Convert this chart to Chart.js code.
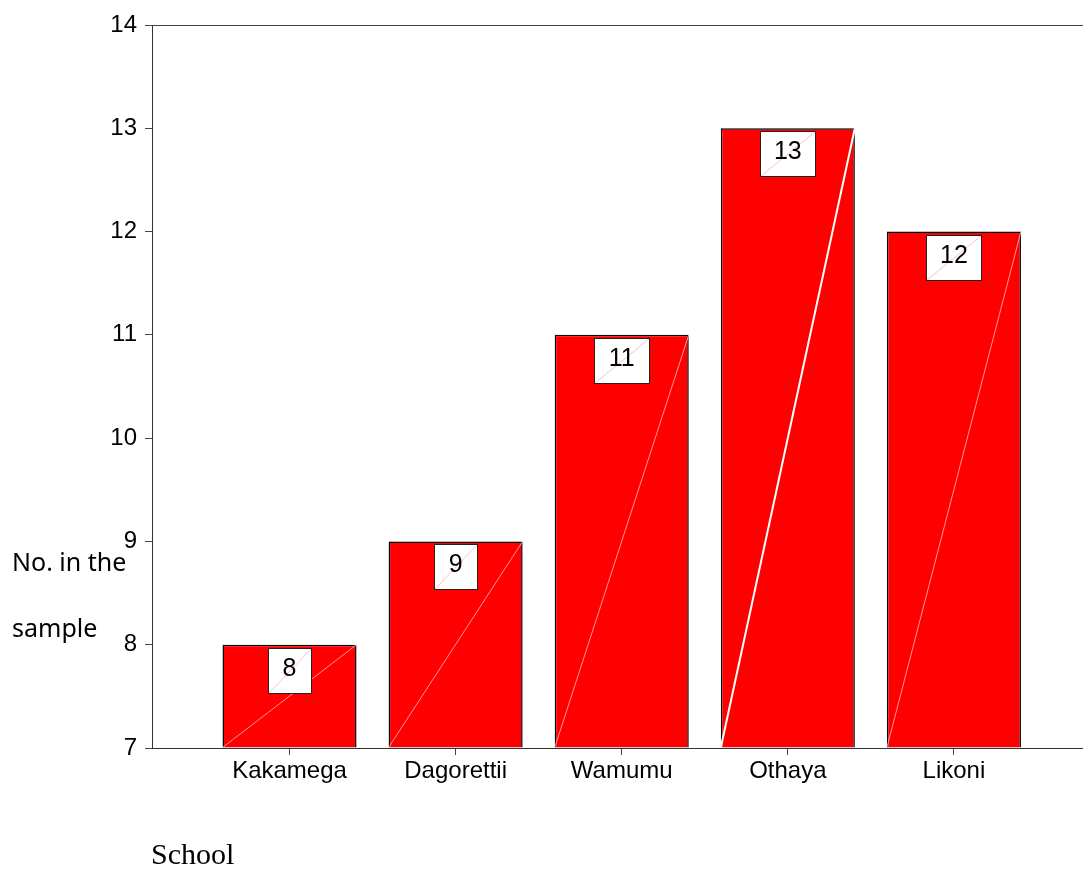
<!DOCTYPE html>
<html>
<head>
<meta charset="utf-8">
<script src="https://cdn.jsdelivr.net/npm/chart.js@4.4.1/dist/chart.umd.min.js"></script>
<style>
  body { margin: 0; background: #fff; }
  #wrap { position: relative; width: 1083px; height: 870px; }
  .lbl { position: absolute; white-space: nowrap; color: #000; }
  .ylab { font-family: "Noto Sans", sans-serif; font-size: 25px; left: 12px; }
  #xlab { font-family: "Liberation Serif", serif; font-size: 30px; left: 151px; top: 837px; }
</style>
</head>
<body>
<div id="wrap">
  <canvas id="myChart" width="1083" height="870"></canvas>
  <div class="lbl ylab" style="top:544px">No. in the</div>
  <div class="lbl ylab" style="top:610px">sample</div>
  <div class="lbl" id="xlab">School</div>
</div>
<script>
const schools = ['Kakamega', 'Dagorettii', 'Wamumu', 'Othaya', 'Likoni'];
const counts = [8, 9, 11, 13, 12];
const yTicks = [7, 8, 9, 10, 11, 12, 13, 14];

const axisFont = { family: 'Liberation Sans, Arial, sans-serif', size: 24 };

// faint diagonal in each bar + the value boxes on top
const barDecor = {
    id: 'barDecor',
    afterDatasetsDraw(chart) {
        const ctx = chart.ctx;
        const bars = chart.getDatasetMeta(0).data;
        ctx.save();
        bars.forEach((bar, i) => {
            const left = bar.x - bar.width / 2, right = bar.x + bar.width / 2;
            ctx.beginPath();
            ctx.moveTo(left, bar.base);
            ctx.lineTo(right, bar.y);
            if (i === 3) {
                ctx.strokeStyle = '#fff';
                ctx.lineWidth = 2;
            } else {
                ctx.strokeStyle = 'rgba(255,190,190,0.8)';
                ctx.lineWidth = 1;
            }
            ctx.stroke();

            const txt = String(counts[i]);
            ctx.font = '25px Liberation Sans, Arial, sans-serif';
            const w = txt.length > 1 ? 55 : 43;
            const h = 45;
            const bx = Math.round(bar.x - w / 2) + 0.5;
            const by = Math.round(bar.y + 3) + 0.5;
            ctx.fillStyle = '#fff';
            ctx.fillRect(bx, by, w, h);
            ctx.beginPath();
            ctx.moveTo(bx, by + h);
            ctx.lineTo(bx + w, by);
            ctx.strokeStyle = 'rgba(255,150,150,0.6)';
            ctx.lineWidth = 1;
            ctx.stroke();
            ctx.strokeStyle = '#222';
            ctx.strokeRect(bx, by, w, h);
            ctx.fillStyle = '#000';
            ctx.textAlign = 'center';
            ctx.textBaseline = 'middle';
            ctx.fillText(txt, bar.x, by + h / 2 - 2);
        });
        // top frame line
        const a = chart.chartArea;
        ctx.beginPath();
        ctx.moveTo(a.left - 7, Math.round(a.top) + 0.5);
        ctx.lineTo(a.right, Math.round(a.top) + 0.5);
        ctx.strokeStyle = '#444';
        ctx.lineWidth = 1;
        ctx.stroke();
        ctx.restore();
    }
};

const ctx = document.getElementById('myChart').getContext('2d');
const myChart = new Chart(ctx, {
    type: 'bar',
    data: {
        datasets: [{
            data: counts.map((v, i) => ({ x: i, y: v })),
            backgroundColor: '#ff0000',
            borderColor: '#000',
            borderWidth: 1.5,
            borderSkipped: 'bottom',
            base: 7,
            barPercentage: 0.807,
            categoryPercentage: 1
        }]
    },
    options: {
        responsive: false,
        animation: false,
        layout: { padding: { top: 25, right: 0, bottom: 0, left: 0 } },
        plugins: {
            legend: { display: false },
            tooltip: { enabled: false }
        },
        scales: {
            x: {
                type: 'linear',
                offset: false,
                min: -0.828,
                max: 4.777,
                afterBuildTicks: (scale) => {
                    scale.ticks = schools.map((s, i) => ({ value: i }));
                },
                afterFit: (scale) => { scale.height = 122; },
                ticks: {
                    autoSkip: false,
                    maxRotation: 0,
                    padding: 2,
                    color: '#000',
                    font: axisFont,
                    callback: (v) => schools[v]
                },
                grid: {
                    offset: false,
                    drawOnChartArea: false,
                    tickLength: 7,
                    color: '#444'
                },
                border: { color: '#333', width: 1 }
            },
            y: {
                min: 7,
                max: 14,
                afterBuildTicks: (scale) => {
                    scale.ticks = yTicks.map(v => ({ value: v }));
                },
                afterFit: (scale) => { scale.width = 152; },
                ticks: {
                    padding: 8,
                    color: '#000',
                    font: axisFont
                },
                grid: {
                    drawOnChartArea: false,
                    tickLength: 7,
                    color: '#444'
                },
                border: { color: '#333', width: 1 }
            }
        }
    },
    plugins: [barDecor]
});
</script>
</body>
</html>
